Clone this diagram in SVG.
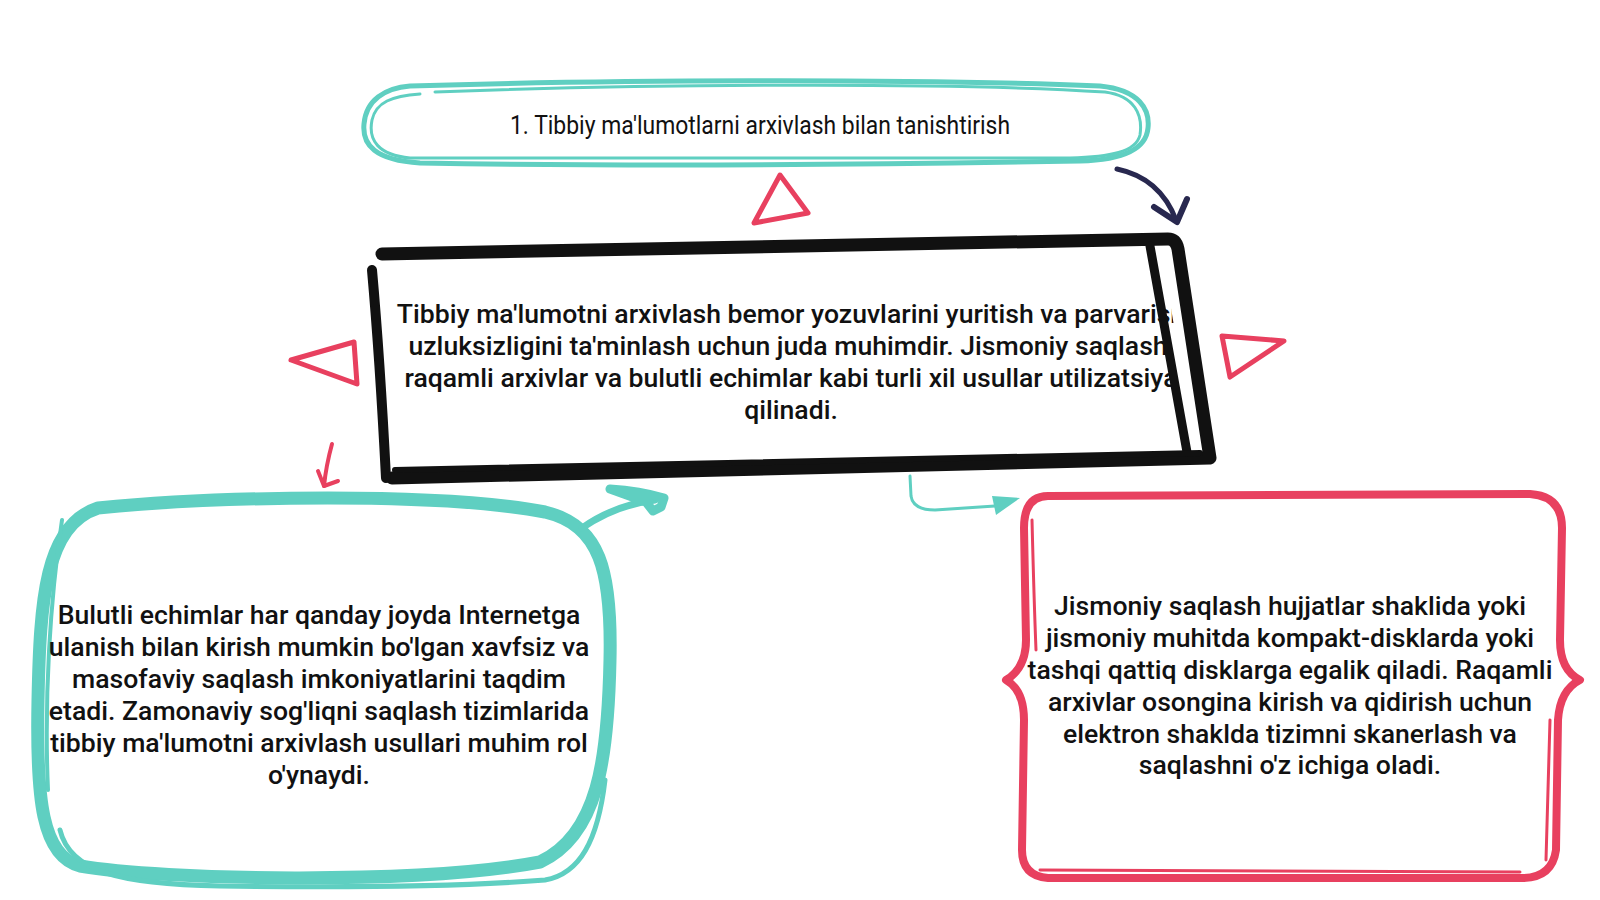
<svg xmlns="http://www.w3.org/2000/svg" width="1600" height="900" viewBox="0 0 1600 900">
  <style>
    .bg { fill: #ffffff; }
    .teal { fill: none; stroke: #5fcfc1; stroke-linecap: round; stroke-linejoin: round; }
    .pink { fill: none; stroke: #e8405f; stroke-linecap: round; stroke-linejoin: round; }
    .ink { fill: none; stroke: #111111; stroke-linecap: round; stroke-linejoin: round; }
    .navy { fill: none; stroke: #28284f; stroke-linecap: round; stroke-linejoin: round; }
    .body { font-family: Roboto, "Liberation Sans", sans-serif; font-size: 26.6px; font-weight: 500; fill: #111111; text-anchor: middle; }
    .title { font-family: "Liberation Sans Narrow", "Roboto", "Liberation Sans", sans-serif; font-size: 26px; fill: #111111; text-anchor: middle; }
  </style>
  <defs>
    <clipPath id="mainClip">
      <polygon points="380,252 1160,240 1196,462 388,479"/>
    </clipPath>
  </defs>
  <rect class="bg" x="0" y="0" width="1600" height="900"/>

  <g id="node-intro">
    <path class="teal" stroke-width="5" d="M410,86 C600,80 900,78 1100,86 C1140,90 1150,110 1148,128 C1146,150 1120,160 1080,161 C800,166 600,166 420,163 C375,160 362,145 364,124 C366,100 385,88 410,86 Z"/>
    <path class="teal" stroke-width="3" d="M435,92 C650,84 950,82 1105,92 C1135,96 1143,115 1140,135 C1136,152 1110,157 1070,158 C800,160 600,160 410,158 C378,155 368,140 372,120 C376,102 392,96 420,94"/>
    <text class="title" x="760" y="134" textLength="500" lengthAdjust="spacingAndGlyphs">1. Tibbiy ma'lumotlarni arxivlash bilan tanishtirish</text>
  </g>

  <g id="node-main">
    <g clip-path="url(#mainClip)">
      <text class="body" x="791" y="323">Tibbiy ma'lumotni arxivlash bemor yozuvlarini yuritish va parvarish</text>
      <text class="body" x="791" y="355">uzluksizligini ta'minlash uchun juda muhimdir. Jismoniy saqlash,</text>
      <text class="body" x="791" y="387">raqamli arxivlar va bulutli echimlar kabi turli xil usullar utilizatsiya</text>
      <text class="body" x="791" y="419">qilinadi.</text>
    </g>
    <path class="ink" stroke-width="13" d="M382,254 L1168,239 Q1176,239 1178,249 L1210,458 L392,478"/>
    <path class="ink" stroke-width="10" d="M372,270 Q380,360 386,478"/>
    <path class="ink" stroke-width="9" d="M1150,246 L1187,452"/>
    <path class="ink" stroke-width="6" d="M395,470 L1200,453"/>
  </g>

  <g id="node-cloud">
    <path class="teal" stroke-width="13" d="M98,508 C220,496 440,492 545,512 C600,525 612,570 610,660 C608,760 598,835 540,862 C420,885 160,880 80,866 C42,856 36,800 38,700 C40,600 45,525 98,508 Z"/>
    <path class="teal" stroke-width="5" d="M60,830 C70,872 120,884 220,886 C360,888 470,886 545,880 C580,874 598,840 605,780"/>
    <path class="teal" stroke-width="4" d="M62,520 C50,600 44,700 48,790"/>
    <text class="body" x="319" y="624">Bulutli echimlar har qanday joyda Internetga</text>
    <text class="body" x="319" y="656">ulanish bilan kirish mumkin bo'lgan xavfsiz va</text>
    <text class="body" x="319" y="688">masofaviy saqlash imkoniyatlarini taqdim</text>
    <text class="body" x="319" y="720">etadi. Zamonaviy sog'liqni saqlash tizimlarida</text>
    <text class="body" x="319" y="752">tibbiy ma'lumotni arxivlash usullari muhim rol</text>
    <text class="body" x="319" y="784">o'ynaydi.</text>
  </g>

  <g id="node-physical">
    <path class="pink" stroke-width="8" d="M1048,496 L1530,494 Q1562,496 1562,528 L1560,640 Q1560,670 1580,680 Q1560,690 1558,720 L1556,850 Q1552,878 1522,878 L1048,878 Q1022,876 1022,850 L1024,720 Q1024,690 1006,680 Q1026,668 1026,640 L1024,528 Q1024,496 1048,496 Z"/>
    <path class="pink" stroke-width="3" d="M1032,520 Q1034,600 1036,650 M1550,720 Q1548,800 1546,860 M1040,870 L1520,872"/>
    <text class="body" x="1290" y="615">Jismoniy saqlash hujjatlar shaklida yoki</text>
    <text class="body" x="1290" y="647">jismoniy muhitda kompakt-disklarda yoki</text>
    <text class="body" x="1290" y="679">tashqi qattiq disklarga egalik qiladi. Raqamli</text>
    <text class="body" x="1290" y="711">arxivlar osongina kirish va qidirish uchun</text>
    <text class="body" x="1290" y="743">elektron shaklda tizimni skanerlash va</text>
    <text class="body" x="1290" y="774">saqlashni o'z ichiga oladi.</text>
  </g>

  <g id="accents">
    <polygon class="pink" stroke-width="5" points="780,175 808,213 754,223"/>
    <polygon class="pink" stroke-width="5" points="291,360 354,342 357,384"/>
    <polygon class="pink" stroke-width="5" points="1222,336 1284,341 1230,377"/>
  </g>

  <g id="connectors">
    <path class="navy" stroke-width="5" d="M1117,169 Q1160,178 1176,220"/>
    <path class="navy" stroke-width="6" d="M1154,207 L1177,222 L1187,199"/>
    <path class="pink" stroke-width="4" d="M332,444 Q326,466 324,486"/>
    <path class="pink" stroke-width="4" d="M318,471 L324,486 L338,481"/>
    <path class="teal" stroke-width="7" d="M582,528 Q615,505 655,500"/>
    <path class="teal" stroke-width="9" fill="#5fcfc1" d="M610,489 Q640,491 664,498 L661,507 L653,511 L646,502 Z"/>
    <path class="teal" stroke-width="3" d="M910,476 L911,496 Q913,510 935,510 L995,506"/>
    <polygon fill="#5fcfc1" points="992,496 1020,498 996,515"/>
  </g>
</svg>
